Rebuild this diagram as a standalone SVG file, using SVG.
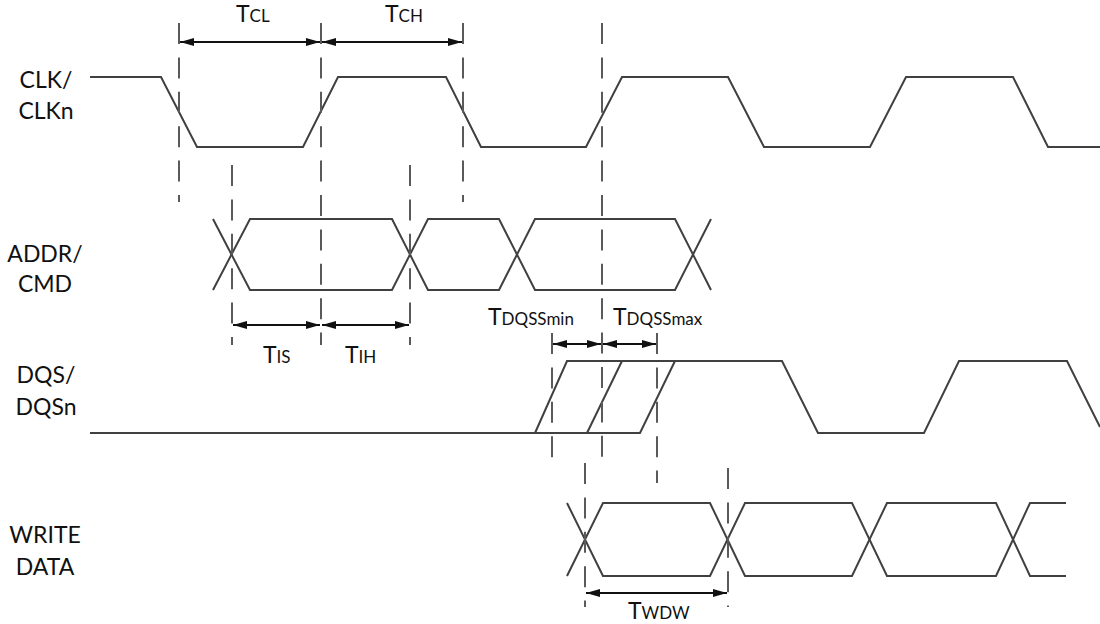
<svg xmlns="http://www.w3.org/2000/svg" width="1100" height="624" viewBox="0 0 1100 624">
<style>
.wave{fill:none;stroke:#404040;stroke-width:2;stroke-linejoin:miter}
.guide{fill:none;stroke:#5a5a5a;stroke-width:2;stroke-dasharray:21 13.4}
.dim{fill:none;stroke:#111;stroke-width:2;marker-start:url(#ah);marker-end:url(#ah)}
.lbl{font-family:Lato,"Noto Sans",sans-serif;font-size:23px;fill:#111;text-anchor:middle}
.t{font-family:Lato,"Noto Sans",sans-serif;font-size:23px;fill:#111}
.s{font-size:17px}
</style>
<defs>
<marker id="ah" viewBox="0 0 14 8" refX="14" refY="4" markerWidth="14" markerHeight="8" markerUnits="userSpaceOnUse" orient="auto-start-reverse">
<path d="M0,0 L14,4 L0,8 Z" fill="#111"/>
</marker>
</defs>
<rect width="1100" height="624" fill="#fff"/>

<g id="labels">
<text class="lbl" x="46" y="88">CLK/</text>
<text class="lbl" x="46" y="119">CLKn</text>
<text class="lbl" x="45" y="262">ADDR/</text>
<text class="lbl" x="45" y="292">CMD</text>
<text class="lbl" x="46" y="383">DQS/</text>
<text class="lbl" x="46" y="415">DQSn</text>
<text class="lbl" x="45" y="543">WRITE</text>
<text class="lbl" x="45" y="575">DATA</text>
</g>

<g id="clk">
<path class="wave" d="M90,77 L161,77 L197,147 L303,147 L338,77 L446,77 L481,147 L586,147 L622,77 L728,77 L764,147 L870,147 L906,77 L1013,77 L1048,147 L1100,147"/>
</g>

<g id="addr">
<path class="wave" d="M213,219 L250,290 L392,290 L428,219 L499,219 L535,290 L675,290 L711,219"/>
<path class="wave" d="M213,290 L250,219 L392,219 L428,290 L499,290 L535,219 L675,219 L711,290"/>
</g>

<g id="dqs">
<path class="wave" d="M90,433 L640,433 L675,361"/>
<path class="wave" d="M535,433 L567,361 L782,361 L818,433 L924,433 L959,361 L1067,361 L1100,427"/>
<path class="wave" d="M587,433 L622,361"/>
</g>

<g id="wdata">
<path class="wave" d="M567,503 L603,576 L710,576 L745,503 L852,503 L887,576 L996,576 L1030,503 L1066,503"/>
<path class="wave" d="M567,576 L603,503 L710,503 L745,576 L852,576 L887,503 L996,503 L1030,576 L1066,576"/>
</g>

<g id="connectors">
<line class="guide" x1="179" y1="23" x2="179" y2="202"/>
<line class="guide" x1="321" y1="23" x2="321" y2="345"/>
<line class="guide" x1="463" y1="23" x2="463" y2="202"/>
<line class="guide" x1="602" y1="23" x2="602" y2="470"/>
<line class="guide" x1="232" y1="165" x2="232" y2="345"/>
<line class="guide" x1="410" y1="165" x2="410" y2="345"/>
<line class="guide" x1="552" y1="333" x2="552" y2="470"/>
<line class="guide" x1="657" y1="333" x2="657" y2="483"/>
<line class="guide" x1="585" y1="463" x2="585" y2="607"/>
<line class="guide" x1="728" y1="468" x2="728" y2="607"/>

<line class="dim" x1="180" y1="42" x2="320" y2="42"/>
<line class="dim" x1="322" y1="42" x2="462" y2="42"/>
<line class="dim" x1="233" y1="325" x2="320" y2="325"/>
<line class="dim" x1="322" y1="325" x2="409" y2="325"/>
<line class="dim" x1="553" y1="344" x2="601" y2="344"/>
<line class="dim" x1="603" y1="344" x2="656" y2="344"/>
<line class="dim" x1="586" y1="593" x2="727" y2="593"/>
</g>

<g id="dim-labels">
<text class="t" x="236" y="22">T<tspan class="s">CL</tspan></text>
<text class="t" x="385" y="22">T<tspan class="s">CH</tspan></text>
<text class="t" x="263" y="363">T<tspan class="s">IS</tspan></text>
<text class="t" x="345" y="363">T<tspan class="s">IH</tspan></text>
<text class="t" x="488" y="325">T<tspan class="s">DQSSmin</tspan></text>
<text class="t" x="613" y="325">T<tspan class="s">DQSSmax</tspan></text>
<text class="t" x="628" y="619">T<tspan class="s">WDW</tspan></text>
</g>
</svg>
